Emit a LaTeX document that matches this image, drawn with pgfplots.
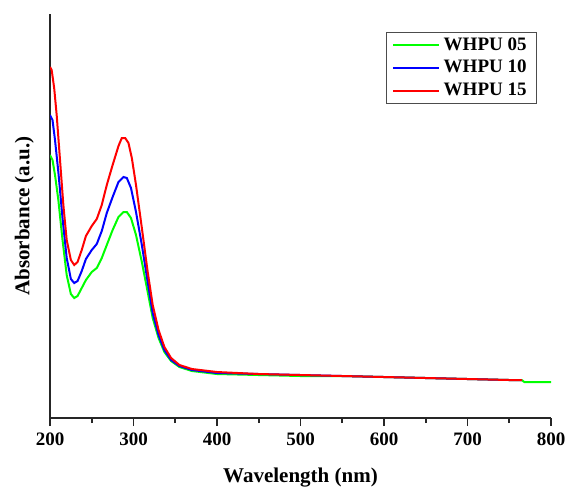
\documentclass[border=0pt]{standalone}
\usepackage{pgfplots}
\pgfplotsset{compat=1.18}
\usepackage{fontspec}
\setmainfont{Liberation Serif}
\begin{document}
\begin{tikzpicture}
\begin{axis}[
    scale only axis,
    width=250.5pt, height=202pt,
    xmin=200, xmax=800, ymin=0, ymax=404,
    axis x line*=bottom, axis y line*=left,
    axis line style={line width=0.9pt, black!85},
    xtick={200,300,...,800}, minor x tick num=1,
    tick align=outside,
    major tick length=4pt, minor tick length=2.5pt,
    ytick=\empty,
    tick style={line width=0.9pt, black!85},
    tick label style={font=\bfseries\fontsize{9.5}{11}\selectfont},
    /pgf/number format/assume math mode=true,
    xlabel={Wavelength (nm)}, ylabel={Absorbance (a.u.)},
    xlabel shift=4pt, ylabel shift=0.5pt,
    label style={font=\bfseries\fontsize{10.5}{12}\selectfont},
    legend style={at={(0.972,0.955)}, anchor=north east, draw=black!70,
                  font=\bfseries\fontsize{9.5}{11}\selectfont,
                  row sep=-0.5pt, inner xsep=3pt, inner ysep=0.5pt},
    legend cell align=left,
    legend image post style={line width=1.1pt},
    legend image code/.code={\draw[#1] (0cm,0cm) -- (0.8cm,0cm);},
    every axis plot/.append style={line width=1pt},
]
% WHPU 05 (values are heights above the axis floor)
\addplot[color={rgb,255:red,0;green,255;blue,0}] coordinates {
(200,263) (203,258) (206,243) (210,218) (215,178) (220,143) (225,124) (229,120)
(233,122) (238,130) (243,138) (250,146) (256,150) (262,160) (268,173) (275,188)
(282,201) (288,206) (292,206) (297,200) (303,183) (310,156) (317,126) (323,100)
(330,80) (337,66) (345,57) (355,51) (370,47) (400,44) (450,43) (500,42) (550,42)
(600,41) (650,40) (700,39) (750,38) (765,38) (768,36) (800,36) };
% WHPU 10
\addplot[color={rgb,255:red,0;green,0;blue,255}] coordinates {
(200,303) (203,298) (206,278) (210,246) (215,200) (220,160) (225,139) (229,135)
(233,137) (238,147) (243,159) (250,168) (256,174) (262,187) (268,205) (275,221)
(282,236) (288,241) (292,240) (297,230) (303,206) (310,173) (317,136) (323,105)
(330,83) (337,68) (345,58) (355,52) (370,48) (400,45) (450,44) (500,43) (550,42)
(600,41) (650,40) (700,39) (750,38) (765,38) };
% WHPU 15
\addplot[color={rgb,255:red,255;green,0;blue,0}] coordinates {
(200,351) (202,348) (205,330) (208,303) (212,258) (216,213) (220,178) (225,158)
(229,153) (233,156) (238,168) (243,182) (250,192) (256,199) (262,213) (268,233)
(275,253) (282,272) (286,280) (290,280) (294,275) (298,260) (303,233) (310,190)
(317,146) (323,113) (330,88) (337,71) (345,60) (355,53) (370,49) (400,46) (450,44)
(500,43) (550,42) (600,41) (650,40) (700,39) (750,38) (765,38) };
\legend{WHPU 05, WHPU 10, WHPU 15}
\end{axis}
\pgfresetboundingbox
\path (current axis.south west) ++(-25pt,-35pt) rectangle ([shift={(9pt,7pt)}]current axis.north east);
\end{tikzpicture}
\end{document}
